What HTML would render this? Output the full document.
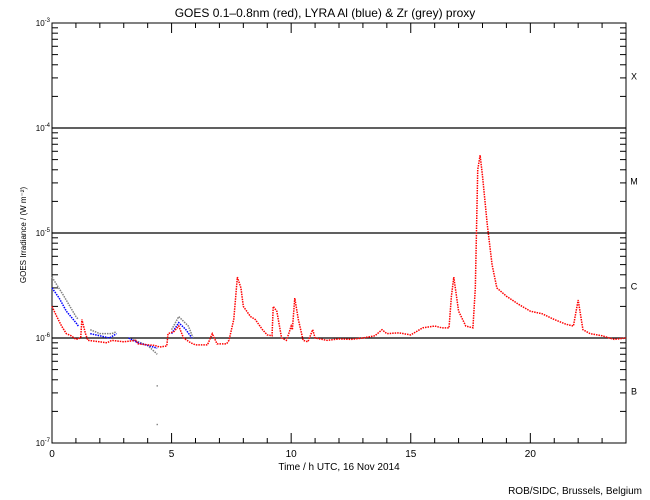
<!DOCTYPE html>
<html><head><meta charset="utf-8"><style>
body{margin:0;background:#fff}
svg{display:block;font-family:"Liberation Sans",sans-serif}
</style></head><body>
<svg id="c" width="650" height="500"></svg>
<script>
const redT=[0,0.2,0.4,0.6,0.8,1.0,1.2,1.25,1.4,1.5,2.0,2.3,2.5,3.0,3.5,3.6,4.0,4.3,4.5,4.8,4.85,5.1,5.3,5.5,5.8,6.0,6.5,6.7,6.9,7.3,7.4,7.6,7.75,7.9,8.0,8.3,8.5,8.8,9.0,9.2,9.25,9.4,9.6,9.8,9.9,10.0,10.05,10.15,10.3,10.5,10.7,10.9,11.0,11.5,12,12.5,13,13.5,13.8,14,14.5,15,15.5,16,16.3,16.6,16.7,16.8,17,17.3,17.6,17.7,17.8,17.9,18.0,18.2,18.4,18.6,19,19.5,20,20.5,21,21.5,21.8,22,22.2,22.5,23,23.5,24];
const redV=[2.0e-6,1.6e-6,1.3e-6,1.1e-6,1.05e-6,0.97e-6,1.0e-6,1.5e-6,1.1e-6,0.95e-6,0.92e-6,0.9e-6,0.95e-6,0.92e-6,0.95e-6,0.88e-6,0.86e-6,0.85e-6,0.82e-6,0.84e-6,1.1e-6,1.15e-6,1.3e-6,1.0e-6,0.9e-6,0.86e-6,0.86e-6,1.1e-6,0.88e-6,0.88e-6,0.95e-6,1.5e-6,3.8e-6,3.0e-6,2.0e-6,1.6e-6,1.5e-6,1.2e-6,1.07e-6,1.05e-6,2.0e-6,1.8e-6,1.0e-6,0.95e-6,1.1e-6,1.3e-6,1.2e-6,2.4e-6,1.5e-6,0.95e-6,0.92e-6,1.2e-6,1.0e-6,0.95e-6,0.98e-6,0.97e-6,1.0e-6,1.05e-6,1.2e-6,1.1e-6,1.12e-6,1.07e-6,1.25e-6,1.3e-6,1.25e-6,1.25e-6,2.5e-6,3.8e-6,1.8e-6,1.3e-6,1.25e-6,3e-6,4e-5,5.5e-5,3.5e-5,1.2e-5,5e-6,3e-6,2.5e-6,2.1e-6,1.8e-6,1.7e-6,1.5e-6,1.35e-6,1.3e-6,2.3e-6,1.2e-6,1.1e-6,1.05e-6,0.97e-6,1.0e-6];
const blueT=[[0,0.3,0.6,1.0,1.1],[1.6,2.0,2.4,2.7],[3.2,3.6,4.0,4.4],[5.0,5.3,5.6,5.85]];
const blueV=[[3.0e-6,2.4e-6,1.8e-6,1.4e-6,1.3e-6],[1.1e-6,1.05e-6,1.0e-6,1.1e-6],[1.0e-6,0.9e-6,0.85e-6,0.8e-6],[1.1e-6,1.4e-6,1.2e-6,1.0e-6]];
const greyT=[[0,0.5,1.0,1.1],[1.6,2.0,2.5,2.7],[3.2,4.0,4.4],[5.0,5.3,5.7,5.9]];
const greyV=[[3.8e-6,2.5e-6,1.6e-6,1.5e-6],[1.2e-6,1.1e-6,1.1e-6,1.15e-6],[1.0e-6,0.85e-6,0.7e-6],[1.2e-6,1.6e-6,1.3e-6,1.0e-6]];
const greyOutT=[4.4,4.4];
const greyOutV=[3.5e-7,1.5e-7];
const xTicks=[0,5,10,15,20];
const decades=[-7,-6,-5,-4,-3];
const classes=["B","C","M","X"];

const L=52,R=626,T=23,B=443;
const X=t=>L+(R-L)*t/24;
const Y=v=>T+(B-T)*(-3-Math.log10(v))/4;
const svg=document.getElementById('c');const NS='http://www.w3.org/2000/svg';
function el(tag,a,txt){const e=document.createElementNS(NS,tag);for(const k in a)e.setAttribute(k,a[k]);if(txt!=null)e.textContent=txt;svg.appendChild(e);return e;}
let e;
e=el('text',{x:325,y:17,'text-anchor':'middle','font-size':12},'GOES 0.1\u20130.8nm (red), LYRA Al (blue) & Zr (grey) proxy');


e=el('rect',{x:L,y:T,width:R-L,height:B-T,fill:'none',stroke:'#000','stroke-width':1});


// y ticks
decades.forEach(d=>{
 const y=Y(Math.pow(10,d));
 e=el('text',{x:L-4,y:y+3,'text-anchor':'end','font-size':8},'10');
 
 
 const s=document.createElementNS(NS,'tspan');s.setAttribute('dy','-4');s.setAttribute('font-size','6');s.textContent=String(d);e.appendChild(s);
 e.setAttribute('x',L-2);e.setAttribute('text-anchor','end');
 if(d>-7&&d<-3){e=el('line',{x1:L,x2:R,y1:y,y2:y,stroke:'#000','stroke-width':1.2});
  
  }
 if(d<-3)for(let m=2;m<=9;m++){const yy=Y(m*Math.pow(10,d));
  el('line',{x1:L,x2:L+6,y1:yy,y2:yy,stroke:'#000'});el('line',{x1:R-6,x2:R,y1:yy,y2:yy,stroke:'#000'});}
 el('line',{x1:L,x2:L+12,y1:y,y2:y,stroke:'#000'});el('line',{x1:R-12,x2:R,y1:y,y2:y,stroke:'#000'});
});
classes.forEach((c,i)=>{const y=(Y(Math.pow(10,-7+i))+Y(Math.pow(10,-6+i)))/2;
 e=el('text',{x:634,y:y+4,'text-anchor':'middle','font-size':9},c);
 
 });
for(let h=0;h<=24;h++){const x=X(h),len=h%5==0?10:5;
 el('line',{x1:x,x2:x,y1:B-len,y2:B,stroke:'#000'});el('line',{x1:x,x2:x,y1:T,y2:T+len,stroke:'#000'});}
xTicks.forEach(t=>{e=el('text',{x:X(t),y:B+14,'text-anchor':'middle','font-size':10},String(t));
 
 });
e=el('text',{x:339,y:470,'text-anchor':'middle','font-size':10},'Time / h UTC, 16 Nov 2014');


e=el('text',{x:26,y:235,'text-anchor':'middle','font-size':8,transform:'rotate(-90 26 235)'},'GOES Irradiance / (W m\u207B\u00B2)');


e=el('text',{x:642,y:494,'text-anchor':'end','font-size':10},'ROB/SIDC, Brussels, Belgium');


function line(ts,vs,col,name){
 e=el('polyline',{points:ts.map((t,i)=>X(t)+','+Y(vs[i])).join(' '),fill:'none',stroke:col,'stroke-width':1.5,'stroke-dasharray':'1.5 1'});
 
 }
greyT.forEach((ts,i)=>line(ts,greyV[i],'#808080','zr-proxy-series'));
blueT.forEach((ts,i)=>line(ts,blueV[i],'#0000ff','al-proxy-series'));
line(redT,redV,'#ff0000','goes-series');
greyOutT.forEach((t,i)=>{e=el('rect',{x:X(t)-0.7,y:Y(greyOutV[i])-0.7,width:1.4,height:1.4,fill:'#808080'});
 
 });
</script>
</body></html>
